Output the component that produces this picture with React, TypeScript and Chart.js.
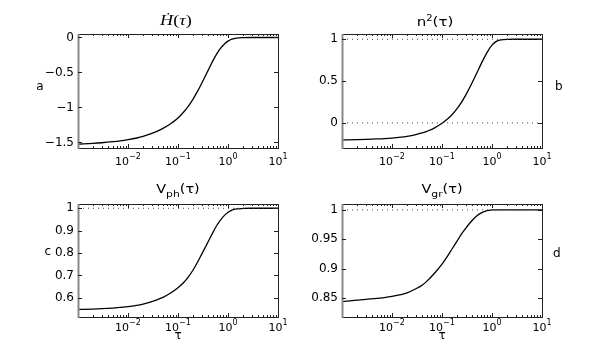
import React, { useEffect, useRef } from "react";
import { Chart, registerables } from "chart.js";

Chart.register(...registerables);

// ---------- data ----------
const tau = [0.001, 0.002, 0.003, 0.005, 0.007, 0.01, 0.015, 0.02, 0.03, 0.04, 0.05, 0.07, 0.1, 0.13, 0.16, 0.2, 0.25, 0.3, 0.4, 0.5, 0.6, 0.7, 0.85, 1, 1.2, 1.5, 2, 3, 5, 10];
const hDot = [-1.524, -1.514, -1.505, -1.49, -1.478, -1.461, -1.437, -1.414, -1.372, -1.335, -1.3, -1.237, -1.15, -1.065, -0.985, -0.88, -0.76, -0.65, -0.47, -0.33, -0.23, -0.16, -0.092, -0.052, -0.024, -0.008, -0.002, 0, 0, 0];
const nSquared = [-0.203, -0.199, -0.196, -0.191, -0.187, -0.181, -0.171, -0.161, -0.14, -0.12, -0.1, -0.062, -0.005, 0.05, 0.1, 0.17, 0.255, 0.335, 0.48, 0.6, 0.7, 0.78, 0.87, 0.93, 0.972, 0.992, 0.999, 1, 1, 1];
const vPhase = [0.548, 0.5495, 0.551, 0.554, 0.557, 0.56, 0.566, 0.572, 0.583, 0.593, 0.602, 0.62, 0.645, 0.668, 0.692, 0.724, 0.762, 0.796, 0.85, 0.892, 0.924, 0.946, 0.968, 0.982, 0.992, 0.997, 0.999, 1, 1, 1];
const vGroup = [0.844, 0.8465, 0.848, 0.8495, 0.851, 0.853, 0.856, 0.859, 0.866, 0.872, 0.879, 0.892, 0.908, 0.922, 0.934, 0.947, 0.96, 0.969, 0.982, 0.99, 0.9945, 0.997, 0.999, 1, 1, 1, 1, 1, 1, 1];

const xRange = [0.001, 10];
const xMajorTicks = [0.01, 0.1, 1, 10];

const yTicksA = [-1.5, -1, -0.5, 0];
const yTicksB = [0, 0.5, 1];
const yTicksC = [0.6, 0.7, 0.8, 0.9, 1];
const yTicksD = [0.85, 0.9, 0.95, 1];

const yRangeA = [-1.58, 0.05];
const yRangeB = [-0.3, 1.063];
const yRangeC = [0.514, 1.019];
const yRangeD = [0.818, 1.01];

const refLinesA: number[] = [];
const refLinesB = [0, 1];
const refLinesC = [1];
const refLinesD = [1];

const panelLetters = ["a", "b", "c", "d"];
const xLabel = "τ";

// ---------- layout / style ----------
const W = 599;
const H = 357;
const Y_AXIS_W = 60;
const TICK_FONT = "DejaVu Sans";

type Seg = { t: string; font: string; dy?: number };

type Panel = {
  values: number[];
  yRange: number[];
  yTicks: number[];
  refs: number[];
  box: { left: number; top: number; right: number; bottom: number };
  title: Seg[];
  titlePos: { x: number; y: number; sx: number };
  letter: string;
  letterPos: { x: number; y: number; align: CanvasTextAlign };
  tickBaseline: number;
  showXLabel: boolean;
  xLabelBaseline: number;
};

const sans = (size: number, style = "") => `${style} ${size}px "DejaVu Sans"`.trim();
const serif = (size: number, style = "") => `${style} ${size}px "Liberation Serif"`.trim();

const panels: Panel[] = [
  {
    values: hDot,
    yRange: yRangeA,
    yTicks: yTicksA,
    refs: refLinesA,
    box: { left: 78, top: 34, right: 278, bottom: 148 },
    title: [
      { t: "Ḣ", font: serif(14, "italic") },
      { t: "(", font: serif(14) },
      { t: "τ", font: serif(14, "italic") },
      { t: ")", font: serif(14) },
    ],
    titlePos: { x: 176, y: 25, sx: 1.3 },
    letter: panelLetters[0],
    letterPos: { x: 40, y: 90, align: "center" },
    tickBaseline: 165,
    showXLabel: false,
    xLabelBaseline: 0,
  },
  {
    values: nSquared,
    yRange: yRangeB,
    yTicks: yTicksB,
    refs: refLinesB,
    box: { left: 342, top: 34, right: 542, bottom: 148 },
    title: [
      { t: "n", font: sans(12) },
      { t: "2", font: sans(8), dy: -5 },
      { t: "(τ)", font: sans(12) },
    ],
    titlePos: { x: 435, y: 26, sx: 1.25 },
    letter: panelLetters[1],
    letterPos: { x: 555, y: 90, align: "left" },
    tickBaseline: 165,
    showXLabel: false,
    xLabelBaseline: 0,
  },
  {
    values: vPhase,
    yRange: yRangeC,
    yTicks: yTicksC,
    refs: refLinesC,
    box: { left: 78, top: 204, right: 278, bottom: 317 },
    title: [
      { t: "V", font: sans(12) },
      { t: "ph", font: sans(9), dy: 4 },
      { t: "(τ)", font: sans(12) },
    ],
    titlePos: { x: 178, y: 193, sx: 1.2 },
    letter: panelLetters[2],
    letterPos: { x: 51, y: 255, align: "right" },
    tickBaseline: 331,
    showXLabel: true,
    xLabelBaseline: 339,
  },
  {
    values: vGroup,
    yRange: yRangeD,
    yTicks: yTicksD,
    refs: refLinesD,
    box: { left: 342, top: 204, right: 542, bottom: 317 },
    title: [
      { t: "V", font: sans(12) },
      { t: "gr", font: sans(9), dy: 4 },
      { t: "(τ)", font: sans(12) },
    ],
    titlePos: { x: 442, y: 193, sx: 1.2 },
    letter: panelLetters[3],
    letterPos: { x: 553, y: 257, align: "left" },
    tickBaseline: 331,
    showXLabel: true,
    xLabelBaseline: 339,
  },
];

function drawRich(ctx: CanvasRenderingContext2D, segs: Seg[], cx: number, baseline: number, sx: number) {
  ctx.save();
  let total = 0;
  const widths = segs.map((s) => {
    ctx.font = s.font;
    const w = ctx.measureText(s.t).width;
    total += w;
    return w;
  });
  ctx.translate(cx, baseline);
  ctx.scale(sx, 1);
  ctx.textAlign = "left";
  ctx.textBaseline = "alphabetic";
  ctx.fillStyle = "#000";
  let x = -total / 2;
  segs.forEach((s, i) => {
    ctx.font = s.font;
    ctx.fillText(s.t, x, s.dy || 0);
    x += widths[i];
  });
  ctx.restore();
}

const fmtTick = (v: number) => String(v).replace("-", "\u2212");

function matlabPlugin(p: Panel) {
  return {
    id: "matlabBox",
    afterDraw(chart: any) {
      const ctx: CanvasRenderingContext2D = chart.ctx;
      const { left, right, top, bottom } = chart.chartArea;
      const xs = chart.scales.x;
      const ys = chart.scales.y;
      ctx.save();
      // box
      ctx.strokeStyle = "#222";
      ctx.lineWidth = 1;
      ctx.strokeRect(Math.round(left) + 0.5, Math.round(top) + 0.5, Math.round(right - left), Math.round(bottom - top));
      ctx.strokeStyle = "#888";
      ctx.lineWidth = 2;
      ctx.beginPath();
      ctx.moveTo(Math.round(left) + 0.5, top);
      ctx.lineTo(Math.round(left) + 0.5, bottom + 1);
      ctx.stroke();
      // ticks
      ctx.strokeStyle = "#222";
      ctx.lineWidth = 1;
      ctx.beginPath();
      const lo = Math.log10(xRange[0]);
      const hi = Math.log10(xRange[1]);
      for (let k = Math.floor(lo); k < hi; k++) {
        for (let m = 1; m <= 9; m++) {
          const v = m * Math.pow(10, k);
          if (v <= xRange[0] || v >= xRange[1]) continue;
          const px = Math.round(xs.getPixelForValue(v)) + 0.5;
          const len = m === 1 ? 4 : 2;
          ctx.moveTo(px, bottom);
          ctx.lineTo(px, bottom - len);
          ctx.moveTo(px, top);
          ctx.lineTo(px, top + len);
        }
      }
      p.yTicks.forEach((v) => {
        const py = Math.round(ys.getPixelForValue(v)) + 0.5;
        ctx.moveTo(left, py);
        ctx.lineTo(left + 4, py);
        ctx.moveTo(right, py);
        ctx.lineTo(right - 4, py);
      });
      ctx.stroke();
      ctx.restore();

      // x tick labels 10^k
      xMajorTicks.forEach((v) => {
        const px = xs.getPixelForValue(v);
        const e = Math.round(Math.log10(v));
        drawRich(
          ctx,
          [
            { t: "10", font: sans(11) },
            { t: fmtTick(e), font: sans(8), dy: -6 },
          ],
          px,
          p.tickBaseline,
          1
        );
      });

      // title
      drawRich(ctx, p.title, p.titlePos.x, p.titlePos.y, p.titlePos.sx);

      // panel letter
      ctx.save();
      ctx.font = sans(12);
      ctx.fillStyle = "#000";
      ctx.textAlign = p.letterPos.align;
      ctx.textBaseline = "alphabetic";
      ctx.fillText(p.letter, p.letterPos.x, p.letterPos.y);
      ctx.restore();

      if (p.showXLabel) {
        drawRich(ctx, [{ t: xLabel, font: sans(12) }], (left + right) / 2, p.xLabelBaseline, 1);
      }
    },
  };
}

function makeConfig(p: Panel): any {
  return {
    type: "line",
    data: {
      datasets: [
        ...p.refs.map((v) => ({
          data: [
            { x: xRange[0], y: v },
            { x: xRange[1], y: v },
          ],
          borderColor: "#444",
          borderWidth: 1,
          borderDash: [1, 4],
          pointRadius: 0,
          fill: false,
        })),
        {
          data: tau.map((t, i) => ({ x: t, y: p.values[i] })),
          borderColor: "#000",
          borderWidth: 1.3,
          pointRadius: 0,
          fill: false,
          cubicInterpolationMode: "monotone",
        },
      ],
    },
    options: {
      animation: false,
      responsive: false,
      devicePixelRatio: 1,
      events: [],
      layout: {
        padding: {
          left: p.box.left - Y_AXIS_W,
          right: W - p.box.right,
          top: p.box.top,
          bottom: H - p.box.bottom,
        },
      },
      plugins: {
        legend: { display: false },
        title: { display: false },
        tooltip: { enabled: false },
      },
      scales: {
        x: { type: "logarithmic", min: xRange[0], max: xRange[1], display: false },
        y: {
          type: "linear",
          min: p.yRange[0],
          max: p.yRange[1],
          afterBuildTicks: (s: any) => {
            s.ticks = p.yTicks.map((v) => ({ value: v }));
          },
          afterFit: (s: any) => {
            s.width = Y_AXIS_W;
          },
          grid: { display: false, drawTicks: false },
          border: { display: false },
          ticks: {
            font: { family: TICK_FONT, size: 12 },
            color: "#000",
            padding: 4,
            autoSkip: false,
            callback: (v: number) => fmtTick(v),
          },
        },
      },
    },
    plugins: [matlabPlugin(p)],
  };
}

function PanelCanvas({ panel }: { panel: Panel }) {
  const ref = useRef<HTMLCanvasElement | null>(null);
  useEffect(() => {
    if (!ref.current) return;
    const chart = new Chart(ref.current, makeConfig(panel));
    return () => chart.destroy();
  }, [panel]);
  return (
    <canvas
      ref={ref}
      width={W}
      height={H}
      style={{ position: "absolute", left: 0, top: 0, width: W, height: H }}
    />
  );
}

export default function App() {
  return (
    <div style={{ position: "absolute", left: 0, top: 0, width: W, height: H, background: "#fff" }}>
      {panels.map((p, i) => (
        <PanelCanvas key={i} panel={p} />
      ))}
    </div>
  );
}
